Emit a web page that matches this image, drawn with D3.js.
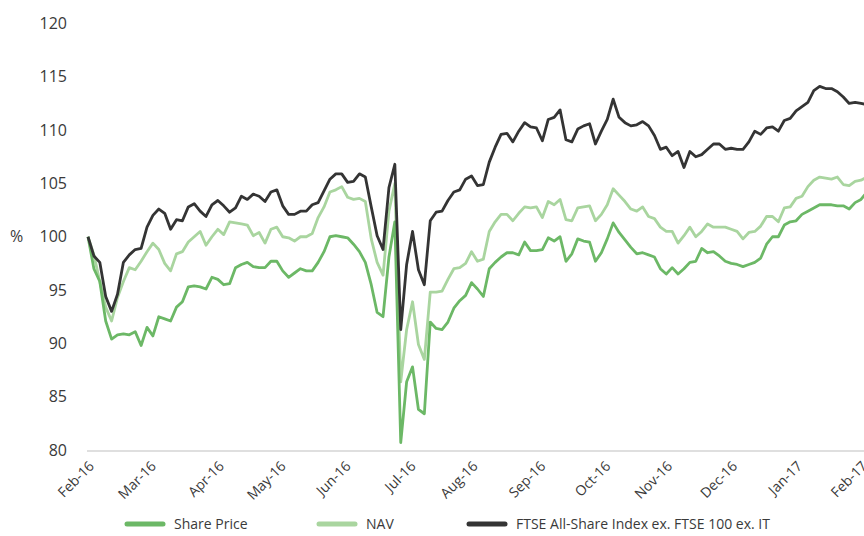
<!DOCTYPE html>
<html>
<head>
<meta charset="utf-8">
<script src="https://cdn.jsdelivr.net/npm/d3@7"></script>
<style>
  body { margin: 0; background: #fff; }
  svg { display: block; font-family: "Open Sans", "Noto Sans", sans-serif; }
</style>
</head>
<body>
<svg id="chart" width="864" height="536"></svg>
<script>
// one value every 2 business days from 1 Feb 2016
const step = 2;

const sharePrice = [
  100.0, 97.0, 95.8, 92.1, 90.4, 90.8, 90.9, 90.8, 91.1, 89.8,
  91.5, 90.7, 92.5, 92.3, 92.1, 93.4, 93.9, 95.3, 95.4, 95.3,
  95.1, 96.2, 96.0, 95.5, 95.6, 97.1, 97.4, 97.6, 97.2, 97.1,
  97.1, 97.7, 97.7, 96.8, 96.2, 96.6, 97.0, 96.8, 96.8, 97.6,
  98.6, 100.0, 100.1, 100.0, 99.9, 99.3, 98.6, 97.6, 95.5, 92.9,
  92.5, 98.1, 101.4, 80.7, 86.4, 87.8, 83.8, 83.4, 92.0, 91.4,
  91.3, 92.0, 93.3, 94.0, 94.5, 95.7, 95.1, 94.4, 97.0, 97.6,
  98.1, 98.5, 98.5, 98.3, 99.5, 98.7, 98.7, 98.8, 99.9, 99.6,
  100.0, 97.7, 98.4, 99.8, 99.6, 99.5, 97.7, 98.5, 99.8, 101.3,
  100.4, 99.7, 99.0, 98.4, 98.5, 98.3, 98.1, 97.0, 96.5, 97.1,
  96.5, 97.0, 97.6, 97.7, 98.9, 98.5, 98.6, 98.2, 97.7, 97.5,
  97.4, 97.2, 97.4, 97.6, 98.0, 99.3, 100.0, 100.0, 101.1, 101.4,
  101.5, 102.1, 102.4, 102.7, 103.0, 103.0, 103.0, 102.9, 102.9, 102.6,
  103.2, 103.5, 104.2
];

const nav = [
  100.0, 98.3, 95.8, 93.4, 92.1, 94.3, 95.8, 97.1, 96.9, 97.7,
  98.6, 99.4, 98.8, 97.5, 96.8, 98.4, 98.6, 99.5, 100.0, 100.5,
  99.2, 100.0, 100.7, 100.2, 101.4, 101.3, 101.2, 101.1, 100.1, 100.4,
  99.4, 100.7, 100.9, 100.0, 99.9, 99.6, 100.0, 100.0, 100.3, 101.8,
  102.8, 104.2, 104.4, 104.7, 103.7, 103.5, 103.6, 103.3, 99.8, 97.6,
  96.4, 102.4, 105.0, 86.4, 91.3, 93.9, 89.9, 88.5, 94.8, 94.8,
  94.9, 96.0, 97.0, 97.1, 97.5, 98.6, 97.7, 97.9, 100.5, 101.4,
  102.1, 102.1, 101.5, 102.2, 102.8, 102.7, 102.8, 101.8, 103.3, 103.0,
  103.5, 101.6, 101.5, 102.7, 102.8, 102.9, 101.5, 102.1, 103.0, 104.5,
  103.9, 103.3, 102.6, 102.4, 102.8, 101.9, 101.7, 100.9, 100.5, 100.5,
  99.4, 100.1, 100.9, 100.0, 100.5, 101.2, 100.9, 100.9, 100.9, 100.7,
  100.5, 99.8, 100.4, 100.5, 101.0, 101.9, 101.9, 101.4, 102.7, 102.8,
  103.6, 103.8, 104.7, 105.3, 105.6, 105.5, 105.4, 105.6, 104.9, 104.8,
  105.2, 105.3, 105.6
];

const ftse = [
  100.0, 98.2, 97.6, 94.4, 93.0, 94.6, 97.6, 98.3, 98.8, 98.9,
  100.9, 102.0, 102.6, 102.2, 100.7, 101.6, 101.5, 102.8, 103.1, 102.4,
  101.9, 103.0, 103.4, 102.9, 102.3, 102.7, 103.8, 103.5, 104.0, 103.8,
  103.3, 104.2, 104.4, 102.9, 102.1, 102.1, 102.4, 102.4, 103.0, 103.2,
  104.3, 105.4, 105.9, 105.9, 105.1, 105.2, 105.9, 105.6, 102.8, 100.1,
  98.8, 104.6, 106.8, 91.3, 97.4, 100.5, 96.9, 95.5, 101.5, 102.3,
  102.4, 103.4, 104.2, 104.4, 105.4, 105.7, 104.8, 104.9, 107.0, 108.4,
  109.6, 109.7, 108.9, 109.9, 110.7, 110.3, 110.2, 109.0, 111.0, 111.2,
  111.9, 109.1, 108.9, 110.1, 110.4, 110.6, 108.7, 109.9, 111.0, 112.9,
  111.2, 110.7, 110.4, 110.5, 110.8, 110.4, 109.5, 108.2, 108.4, 107.6,
  108.0, 106.5, 108.0, 107.5, 107.7, 108.2, 108.7, 108.7, 108.2, 108.3,
  108.2, 108.2, 108.9, 109.9, 109.6, 110.2, 110.3, 109.9, 110.9, 111.1,
  111.8, 112.2, 112.6, 113.7, 114.1, 113.9, 113.9, 113.6, 113.1, 112.5,
  112.6, 112.5, 112.4
];

// month labels and the business-day index of each month's first trading day
const monthLabels = ["Feb-16", "Mar-16", "Apr-16", "May-16", "Jun-16", "Jul-16",
  "Aug-16", "Sep-16", "Oct-16", "Nov-16", "Dec-16", "Jan-17", "Feb-17"];
const monthStart = [0, 21, 44, 65, 87, 109, 130, 153, 175, 196, 218, 240, 262];

const yTicks = [80, 85, 90, 95, 100, 105, 110, 115, 120];

const series = [
  { name: "Share Price", values: sharePrice, color: "#6cb866" },
  { name: "NAV", values: nav, color: "#a9d59f" },
  { name: "FTSE All-Share Index ex. FTSE 100 ex. IT", values: ftse, color: "#343434" }
];

const svg = d3.select("#chart");

const x = d3.scaleLinear().domain([0, 262]).range([88, 861]);
const y = d3.scaleLinear().domain([80, 120]).range([450, 23.5]);

// y labels
svg.append("g")
  .selectAll("text")
  .data(yTicks)
  .enter()
  .append("text")
  .attr("x", 67)
  .attr("y", (d) => y(d))
  .attr("dy", "0.35em")
  .attr("text-anchor", "end")
  .attr("font-size", 16)
  .attr("fill", "#3a3a3a")
  .text((d) => d);

svg.append("text")
  .attr("x", 10)
  .attr("y", y(100))
  .attr("dy", "0.35em")
  .attr("font-size", 16)
  .attr("fill", "#3a3a3a")
  .text("%");

// baseline
svg.append("line")
  .attr("x1", 87)
  .attr("x2", 864)
  .attr("y1", y(80) + 1)
  .attr("y2", y(80) + 1)
  .attr("stroke", "#d4d4d4")
  .attr("stroke-width", 1.5);

// month labels, rotated (the last one runs off the edge, as in the original)
svg.append("g")
  .selectAll("text")
  .data(monthLabels)
  .enter()
  .append("text")
  .attr("transform", (d, i) => `translate(${x(monthStart[i]) + 7},${y(80) + 17}) rotate(-45)`)
  .attr("text-anchor", "end")
  .attr("font-size", 14)
  .attr("fill", "#3a3a3a")
  .text((d) => d);

const line = d3.line()
  .x((d, i) => x(i * step))
  .y((d) => y(d));

svg.append("defs").append("clipPath").attr("id", "plot")
  .append("rect").attr("x", 80).attr("y", 0).attr("width", 784).attr("height", 452);

const lines = svg.append("g").attr("clip-path", "url(#plot)");
// draw NAV first, then share price, FTSE on top
[series[1], series[0], series[2]].forEach((s) => {
  lines.append("path")
    .datum(s.values)
    .attr("d", line)
    .attr("fill", "none")
    .attr("stroke", s.color)
    .attr("stroke-width", 2.8)
    .attr("stroke-linejoin", "round");
});

// legend
const legendX = [125, 317, 467];
const legend = svg.append("g");
series.forEach((s, i) => {
  legend.append("line")
    .attr("x1", legendX[i] + 2)
    .attr("x2", legendX[i] + 38)
    .attr("y1", 524)
    .attr("y2", 524)
    .attr("stroke", s.color)
    .attr("stroke-width", 5)
    .attr("stroke-linecap", "round");
  legend.append("text")
    .attr("x", legendX[i] + 49)
    .attr("y", 524)
    .attr("dy", "0.35em")
    .attr("font-size", 14)
    .attr("fill", "#3a3a3a")
    .text(s.name);
});
</script>
</body>
</html>
